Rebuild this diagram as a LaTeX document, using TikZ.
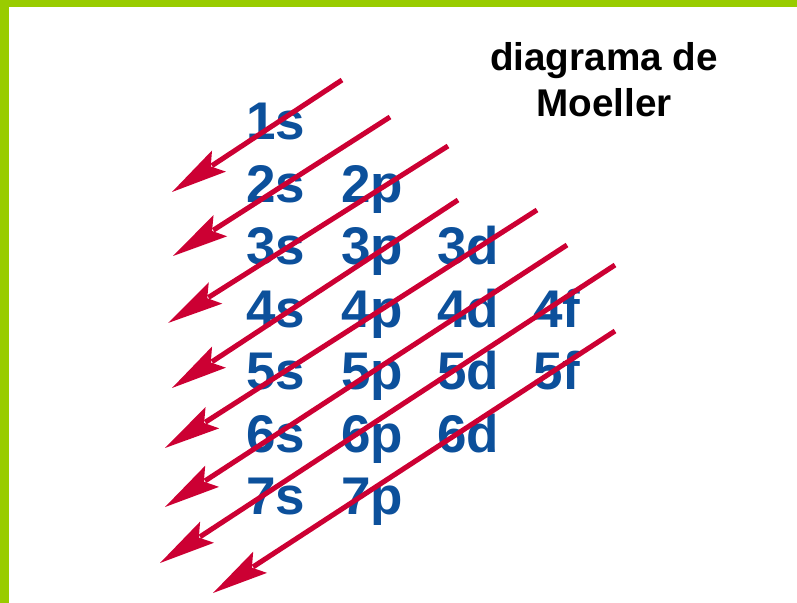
\documentclass[tikz,border=0pt]{standalone}
\usepackage{fontspec}
\setsansfont{Liberation Sans}
\usetikzlibrary{calc}
\definecolor{framegreen}{RGB}{153,204,0}
\definecolor{orbblue}{RGB}{12,80,155}
\definecolor{arrowred}{RGB}{204,0,51}

% a diagonal from #1 down to the head at #2, the head filled by hand
\newcommand{\fillorder}[2]{%
  \draw[diag] (#1) -- ($(#2)!34pt!(#1)$);
  \fill[head] (#2)
    -- ($(#2)!40pt!(#1)!9pt!90:(#1)$)
    -- ($(#2)!33pt!(#1)$)
    -- ($(#2)!40pt!(#1)!9pt!-90:(#1)$) -- cycle;}

\begin{document}
\begin{tikzpicture}[
  x=0.025cm, y=0.025cm,
  every node/.style={inner sep=0pt},
  % one pixel of the reference is one unit here, measured down from the top
  orb/.style={anchor=base west, text=orbblue,
    font=\fontsize{37.7pt}{40pt}\selectfont\sffamily\bfseries},
  title/.style={anchor=north, align=center,
    font=\fontsize{27.5pt}{32.7pt}\selectfont\sffamily\bfseries},
  bar/.style={fill=framegreen, draw=none},
  diag/.style={draw=arrowred, line width=3.6pt},
  head/.style={fill=arrowred, draw=none}]

  \useasboundingbox (0,0) rectangle (797,-603);

  % ---- the green edge along the top and the left ------------------------
  \fill[bar] (0,0) rectangle (797,-7);
  \fill[bar] (0,0) rectangle (9,-603);

  % ---- the title ----------------------------------------------------------
  \node[title] (title) at (604,-42) {diagrama de\\Moeller};

  % ---- the orbitals, one row per shell ------------------------------------
  \node[orb] (n1s) at (246,-140) {1s};

  \node[orb] (n2s) at (246,-202.5) {2s};
  \node[orb] (n2p) at (341,-202.5) {2p};

  \node[orb] (n3s) at (246,-265) {3s};
  \node[orb] (n3p) at (341,-265) {3p};
  \node[orb] (n3d) at (437,-265) {3d};

  \node[orb] (n4s) at (246,-327.5) {4s};
  \node[orb] (n4p) at (341,-327.5) {4p};
  \node[orb] (n4d) at (437,-327.5) {4d};
  \node[orb] (n4f) at (533,-327.5) {4f};

  \node[orb] (n5s) at (246,-390) {5s};
  \node[orb] (n5p) at (341,-390) {5p};
  \node[orb] (n5d) at (437,-390) {5d};
  \node[orb] (n5f) at (533,-390) {5f};

  \node[orb] (n6s) at (246,-452.5) {6s};
  \node[orb] (n6p) at (341,-452.5) {6p};
  \node[orb] (n6d) at (437,-452.5) {6d};

  \node[orb] (n7s) at (246,-515) {7s};
  \node[orb] (n7p) at (341,-515) {7p};

  % ---- the ends of the diagonals ------------------------------------------
  \coordinate (d1a) at (342,-80);  \coordinate (d1b) at (172,-192);
  \coordinate (d2a) at (390,-117); \coordinate (d2b) at (173,-256);
  \coordinate (d3a) at (448,-146); \coordinate (d3b) at (168,-323);
  \coordinate (d4a) at (458,-200); \coordinate (d4b) at (172,-388);
  \coordinate (d5a) at (537,-210); \coordinate (d5b) at (165,-448);
  \coordinate (d6a) at (567,-245); \coordinate (d6b) at (165,-507);
  \coordinate (d7a) at (615,-265); \coordinate (d7b) at (160,-563);
  \coordinate (d8a) at (615,-331); \coordinate (d8b) at (213,-593);

  % ---- the filling order, drawn over the labels ---------------------------
  \fillorder{d1a}{d1b}
  \fillorder{d2a}{d2b}
  \fillorder{d3a}{d3b}
  \fillorder{d4a}{d4b}
  \fillorder{d5a}{d5b}
  \fillorder{d6a}{d6b}
  \fillorder{d7a}{d7b}
  \fillorder{d8a}{d8b}
\end{tikzpicture}
\end{document}
